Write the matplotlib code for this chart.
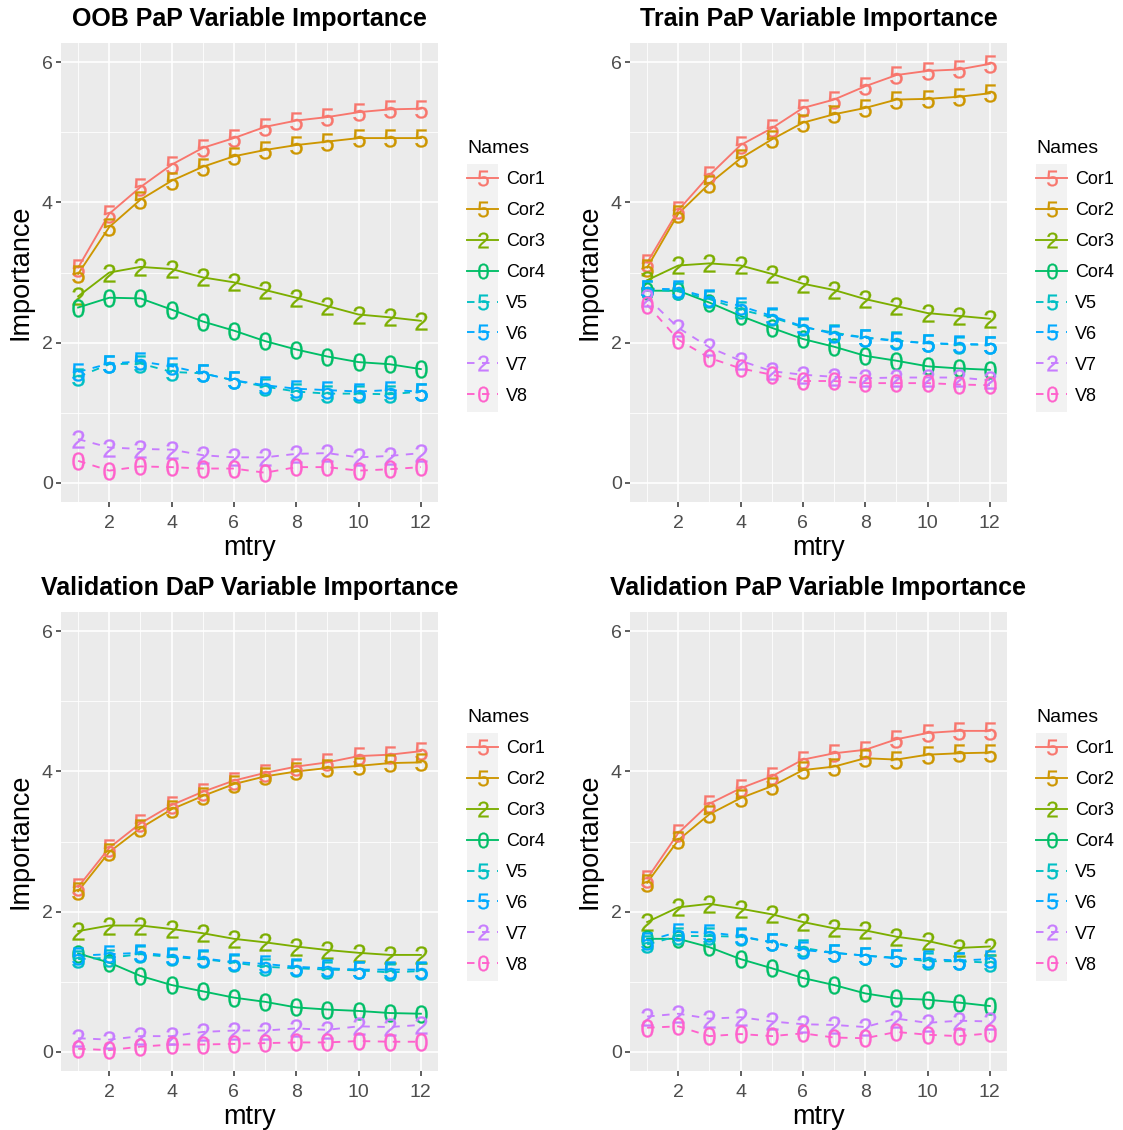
import numpy as np
import matplotlib
matplotlib.use('Agg')
import matplotlib.pyplot as plt
from matplotlib.lines import Line2D
from matplotlib.patches import Rectangle
from matplotlib.path import Path
from matplotlib.textpath import TextPath
from matplotlib.font_manager import FontProperties

plt.rcParams['font.family'] = ['Liberation Sans', 'DejaVu Sans']

mtry = list(range(1, 13))
names = ['Cor1', 'Cor2', 'Cor3', 'Cor4', 'V5', 'V6', 'V7', 'V8']
glyphs = ['5', '5', '2', '0', '5', '5', '2', '0']
colors = ['#F8766D', '#CD9600', '#7CAE00', '#00BE67', '#00BFC4', '#00A9FF', '#C77CFF', '#FF61CC']
dashed = [False, False, False, False, True, True, True, True]

titles = ['OOB PaP Variable Importance', 'Train PaP Variable Importance',
          'Validation DaP Variable Importance', 'Validation PaP Variable Importance']

oob_pap = {
    'Cor1': [3.07, 3.84, 4.22, 4.54, 4.78, 4.92, 5.08, 5.17, 5.22, 5.29, 5.33, 5.34],
    'Cor2': [2.98, 3.65, 4.04, 4.31, 4.51, 4.66, 4.75, 4.82, 4.87, 4.92, 4.92, 4.92],
    'Cor3': [2.66, 3.00, 3.08, 3.05, 2.93, 2.86, 2.75, 2.64, 2.52, 2.40, 2.36, 2.31],
    'Cor4': [2.50, 2.64, 2.63, 2.47, 2.30, 2.17, 2.02, 1.90, 1.80, 1.72, 1.69, 1.62],
    'V5': [1.51, 1.69, 1.70, 1.58, 1.56, 1.46, 1.37, 1.30, 1.27, 1.27, 1.26, 1.30],
    'V6': [1.58, 1.70, 1.73, 1.66, 1.56, 1.46, 1.39, 1.34, 1.32, 1.30, 1.32, 1.30],
    'V7': [0.62, 0.50, 0.48, 0.47, 0.39, 0.36, 0.36, 0.41, 0.42, 0.36, 0.38, 0.42],
    'V8': [0.31, 0.17, 0.23, 0.22, 0.20, 0.20, 0.14, 0.22, 0.22, 0.17, 0.19, 0.22],
}

train_pap = {
    'Cor1': [3.14, 3.89, 4.39, 4.82, 5.06, 5.35, 5.47, 5.66, 5.82, 5.88, 5.90, 5.98],
    'Cor2': [3.07, 3.84, 4.27, 4.63, 4.90, 5.14, 5.26, 5.35, 5.47, 5.48, 5.51, 5.56],
    'Cor3': [2.89, 3.10, 3.13, 3.10, 2.98, 2.84, 2.75, 2.62, 2.52, 2.42, 2.38, 2.34],
    'Cor4': [2.74, 2.74, 2.57, 2.38, 2.21, 2.05, 1.94, 1.81, 1.74, 1.66, 1.63, 1.61],
    'V5': [2.76, 2.73, 2.62, 2.47, 2.36, 2.22, 2.14, 2.07, 2.03, 1.99, 1.97, 1.97],
    'V6': [2.77, 2.76, 2.64, 2.52, 2.38, 2.23, 2.12, 2.07, 2.02, 1.99, 1.98, 1.97],
    'V7': [2.64, 2.21, 1.93, 1.74, 1.59, 1.54, 1.51, 1.49, 1.50, 1.50, 1.50, 1.46],
    'V8': [2.54, 2.04, 1.78, 1.63, 1.54, 1.45, 1.45, 1.42, 1.42, 1.42, 1.40, 1.39],
}

valid_dap = {
    'Cor1': [2.35, 2.91, 3.26, 3.52, 3.71, 3.87, 3.98, 4.07, 4.13, 4.22, 4.24, 4.29],
    'Cor2': [2.29, 2.85, 3.19, 3.46, 3.65, 3.82, 3.93, 4.00, 4.05, 4.08, 4.12, 4.13],
    'Cor3': [1.72, 1.80, 1.80, 1.75, 1.69, 1.61, 1.56, 1.50, 1.45, 1.41, 1.38, 1.38],
    'Cor4': [1.40, 1.27, 1.08, 0.95, 0.86, 0.77, 0.71, 0.63, 0.60, 0.58, 0.55, 0.54],
    'V5': [1.32, 1.34, 1.39, 1.35, 1.32, 1.27, 1.21, 1.19, 1.17, 1.16, 1.13, 1.15],
    'V6': [1.37, 1.39, 1.41, 1.37, 1.33, 1.28, 1.25, 1.21, 1.19, 1.17, 1.17, 1.17],
    'V7': [0.19, 0.17, 0.22, 0.22, 0.28, 0.30, 0.30, 0.33, 0.31, 0.36, 0.35, 0.38],
    'V8': [0.04, 0.02, 0.07, 0.10, 0.10, 0.11, 0.12, 0.13, 0.13, 0.15, 0.14, 0.14],
}

valid_pap = {
    'Cor1': [2.47, 3.12, 3.54, 3.76, 3.93, 4.17, 4.26, 4.31, 4.46, 4.55, 4.58, 4.58],
    'Cor2': [2.41, 3.02, 3.39, 3.62, 3.79, 4.02, 4.07, 4.19, 4.17, 4.24, 4.26, 4.27],
    'Cor3': [1.85, 2.06, 2.11, 2.04, 1.96, 1.85, 1.76, 1.73, 1.64, 1.58, 1.48, 1.50],
    'Cor4': [1.61, 1.61, 1.49, 1.32, 1.19, 1.05, 0.95, 0.83, 0.76, 0.74, 0.70, 0.65],
    'V5': [1.53, 1.65, 1.65, 1.64, 1.56, 1.48, 1.41, 1.37, 1.34, 1.29, 1.29, 1.27],
    'V6': [1.58, 1.71, 1.70, 1.65, 1.56, 1.45, 1.41, 1.37, 1.33, 1.32, 1.30, 1.32],
    'V7': [0.50, 0.54, 0.47, 0.49, 0.43, 0.39, 0.38, 0.35, 0.47, 0.41, 0.44, 0.43],
    'V8': [0.34, 0.36, 0.22, 0.25, 0.22, 0.26, 0.20, 0.19, 0.28, 0.24, 0.22, 0.26],
}

panels = [oob_pap, train_pap, valid_dap, valid_pap]

W, H = 1123, 1130
# panel boxes in pixels: left, top, width, height
boxes = [(61, 43, 377, 459), (630, 43, 377, 459), (61, 612, 377, 459), (630, 612, 377, 459)]


def glyph_marker(ch):
    tp = TextPath((0, 0), ch, size=10, prop=FontProperties(family='Liberation Sans'))
    ext = tp.get_extents()
    v = tp.vertices.copy()
    v[:, 0] -= (ext.x0 + ext.x1) / 2
    v[:, 1] -= (ext.y0 + ext.y1) / 2
    return Path(v, tp.codes)


markers = [glyph_marker(g) for g in glyphs]

all_vals = np.concatenate([np.ravel(list(p.values())) for p in panels])
ymin, ymax = all_vals.min(), all_vals.max()
ypad = 0.05 * (ymax - ymin)

fig = plt.figure(figsize=(W / 100, H / 100), dpi=100)
legends = []

for data, title, (l, t, w, h) in zip(panels, titles, boxes):
    ax = fig.add_axes([l / W, 1 - (t + h) / H, w / W, h / H])
    ax.set_facecolor('#EBEBEB')
    for s in ax.spines.values():
        s.set_visible(False)

    for name, col, dsh in zip(names, colors, dashed):
        ax.plot(mtry, data[name], color=col, lw=1.35,
                linestyle=(0, (4, 4)) if dsh else '-', zorder=3)
    for name, col, mk in zip(names, colors, markers):
        ax.plot(mtry, data[name], linestyle='none', marker=mk, markersize=13,
                markerfacecolor=col, markeredgecolor=col, markeredgewidth=0.2, zorder=4)

    ax.set_xlim(0.45, 12.55)
    ax.set_ylim(ymin - ypad, ymax + ypad)
    ax.set_xticks([2, 4, 6, 8, 10, 12])
    ax.set_xticks([1, 3, 5, 7, 9, 11], minor=True)
    ax.set_yticks([0, 2, 4, 6])
    ax.set_yticks([1, 3, 5], minor=True)
    ax.grid(which='major', color='white', lw=1.2)
    ax.grid(which='minor', color='white', lw=0.6)
    ax.set_axisbelow(True)
    ax.tick_params(which='major', length=3.5, width=1.1, color='#333333',
                   labelsize=14, labelcolor='#4D4D4D', pad=2.5)
    ax.tick_params(axis='x', which='major', pad=6)
    ax.tick_params(which='minor', length=0)

    ax.set_title(title, fontsize=18, fontweight='bold', pad=12)
    ax.set_xlabel('mtry', fontsize=19.5, labelpad=2)
    ax.set_ylabel('Importance', fontsize=19.5, labelpad=6)

    handles = [Line2D([], [], color=c, lw=1.35, linestyle=(0, (4, 4)) if d else '-',
                      marker=m, markersize=11.3, markerfacecolor=c, markeredgecolor=c,
                      markeredgewidth=0.2)
               for c, d, m in zip(colors, dashed, markers)]
    leg = ax.legend(handles, names, title='Names', loc='center left',
                    bbox_to_anchor=(1 + 29 / w, 0.5), frameon=False, fontsize=13,
                    title_fontsize=14, alignment='left', borderpad=0, borderaxespad=0,
                    handlelength=1.72, handletextpad=0.45, labelspacing=0.77)
    legends.append(leg)

# grey key backgrounds behind legend glyphs
fig.canvas.draw()
inv = fig.transFigure.inverted()
for leg in legends:
    for txt in leg.get_texts():
        bb = txt.get_window_extent()
        cy = (bb.y0 + bb.y1) / 2
        x1 = bb.x0 - 8
        (fx0, fy0) = inv.transform((x1 - 31, cy - 15.5))
        (fx1, fy1) = inv.transform((x1, cy + 15.5))
        fig.patches.append(Rectangle((fx0, fy0), fx1 - fx0, fy1 - fy0, transform=fig.transFigure,
                                     facecolor='#F2F2F2', edgecolor='none', zorder=-1, figure=fig))

fig.savefig('out.png', dpi=100)
